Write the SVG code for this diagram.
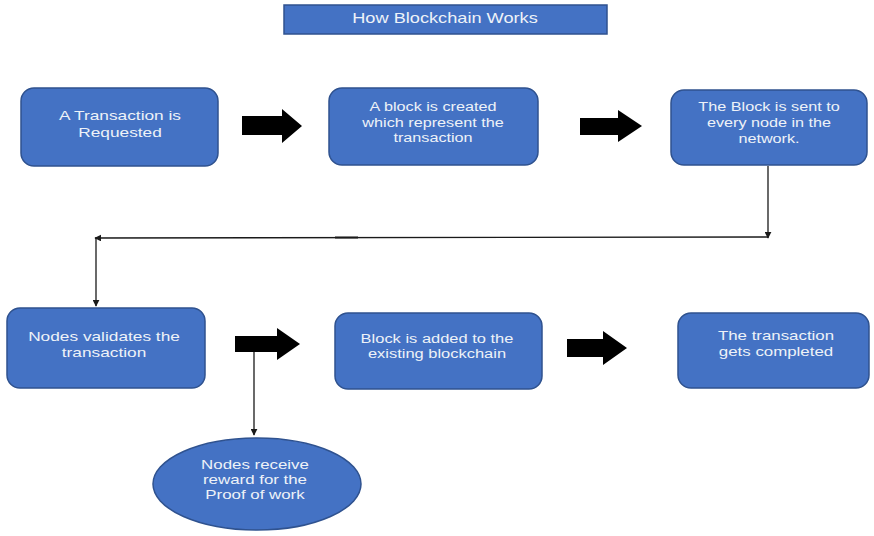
<svg xmlns="http://www.w3.org/2000/svg" width="874" height="536" viewBox="0 0 874 536">
  <style>
    .box { fill: #4472C4; stroke: #2F528F; stroke-width: 1.5; }
    .lbl { font-family: "Liberation Sans", Arial, sans-serif; font-size: 13.5px; fill: #EEF2F8; text-anchor: middle; }
    .conn { fill: none; stroke: #1a1a1a; stroke-width: 1.3; }
    .block { fill: #000; }
  </style>
  <defs>
    <marker id="tip" viewBox="0 0 10 10" refX="9" refY="5" markerWidth="7" markerHeight="7" markerUnits="userSpaceOnUse" orient="auto">
      <path d="M0,0 L10,5 L0,10 Z" fill="#1a1a1a"/>
    </marker>
  </defs>
  <rect width="874" height="536" fill="#fff"/>

  <g id="title">
    <rect class="box" x="284" y="5" width="323" height="29"/>
    <text class="lbl" transform="matrix(1.3,0,0,1,445,0)" x="0" y="23" style="font-size:14px">How Blockchain Works</text>
  </g>

  <g id="node-request">
    <rect class="box" x="21" y="88" width="197" height="78" rx="13"/>
    <text class="lbl" transform="matrix(1.28,0,0,1,120,0)"><tspan x="0" y="120">A Transaction is</tspan><tspan x="0" y="137">Requested</tspan></text>
  </g>

  <g id="node-create">
    <rect class="box" x="329" y="88" width="209" height="77" rx="13"/>
    <text class="lbl" transform="matrix(1.2,0,0,1,433,0)"><tspan x="0" y="111">A block is created</tspan><tspan x="0" y="127">which represent the</tspan><tspan x="0" y="142">transaction</tspan></text>
  </g>

  <g id="node-broadcast">
    <rect class="box" x="671" y="90" width="196" height="75" rx="13"/>
    <text class="lbl" transform="matrix(1.2,0,0,1,769,0)"><tspan x="0" y="111">The Block is sent to</tspan><tspan x="0" y="127">every node in the</tspan><tspan x="0" y="143">network.</tspan></text>
  </g>

  <g id="node-validate">
    <rect class="box" x="7" y="308" width="198" height="80" rx="13"/>
    <text class="lbl" transform="matrix(1.28,0,0,1,104,0)"><tspan x="0" y="341">Nodes validates the</tspan><tspan x="0" y="357">transaction</tspan></text>
  </g>

  <g id="node-add">
    <rect class="box" x="335" y="313" width="207" height="76" rx="13"/>
    <text class="lbl" transform="matrix(1.22,0,0,1,437,0)"><tspan x="0" y="343">Block is added to the</tspan><tspan x="0" y="358">existing blockchain</tspan></text>
  </g>

  <g id="node-complete">
    <rect class="box" x="678" y="313" width="191" height="75" rx="13"/>
    <text class="lbl" transform="matrix(1.25,0,0,1,776,0)"><tspan x="0" y="340">The transaction</tspan><tspan x="0" y="356">gets completed</tspan></text>
  </g>

  <g id="node-reward">
    <ellipse class="box" cx="257" cy="484" rx="104" ry="46"/>
    <text class="lbl" transform="matrix(1.25,0,0,1,255,0)"><tspan x="0" y="469">Nodes receive</tspan><tspan x="0" y="484">reward for the</tspan><tspan x="0" y="499">Proof of work</tspan></text>
  </g>

  <g id="connectors">
    <!-- block arrows between steps -->
    <path class="block" d="M242,116 H282 V109 L302,126 L282,143 V135 H242 Z"/>
    <path class="block" d="M580,118 H618 V110 L642,126 L618,142 V135 H580 Z"/>
    <path class="block" d="M235,336 H277 V328 L300,344 L277,360 V352 H235 Z"/>
    <path class="block" d="M567,339 H603 V331 L627,348 L603,365 V357 H567 Z"/>
    <!-- return path from the broadcast step to validation -->
    <line class="conn" x1="768" y1="166" x2="768" y2="238" marker-end="url(#tip)"/>
    <line class="conn" x1="768" y1="237" x2="95" y2="238" marker-end="url(#tip)"/>
    <line x1="335" y1="237.5" x2="358" y2="237.5" stroke="#1a1a1a" stroke-width="2"/>
    <line class="conn" x1="96" y1="238" x2="96" y2="306" marker-end="url(#tip)"/>
    <!-- branch to the reward -->
    <line class="conn" x1="254" y1="352" x2="254" y2="435" marker-end="url(#tip)"/>
  </g>
</svg>
